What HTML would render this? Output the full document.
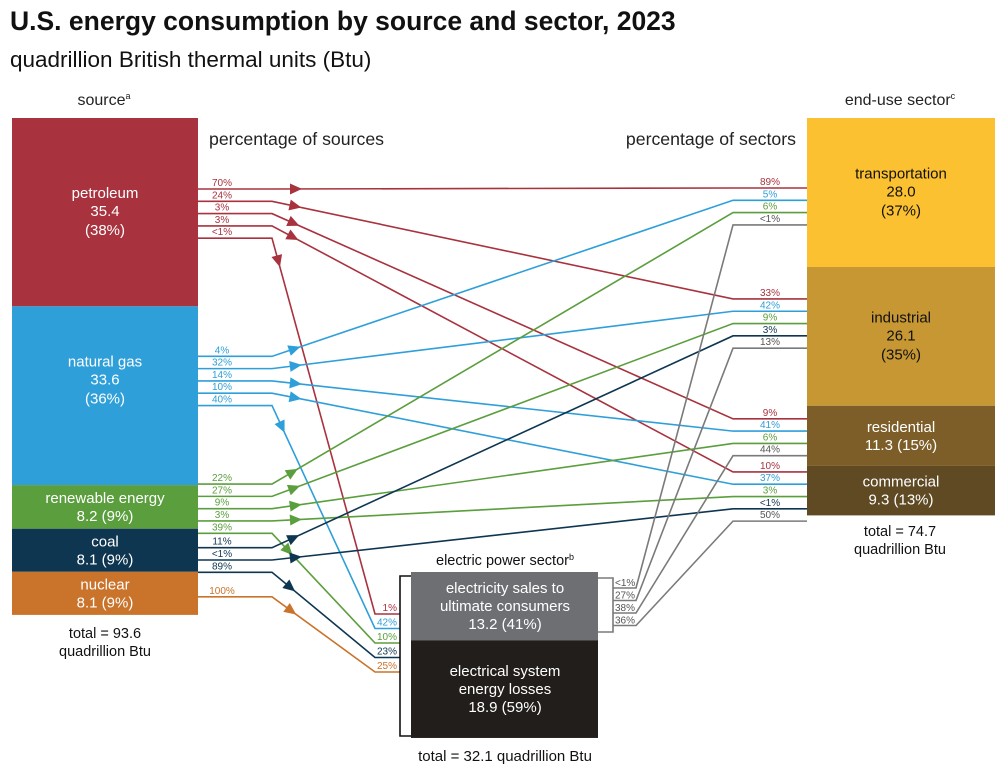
<!DOCTYPE html>
<html><head><meta charset="utf-8"><style>
body{margin:0;background:#fff;font-family:"Liberation Sans",Arial,sans-serif;}
svg text{font-family:"Liberation Sans",Arial,sans-serif;}
</style></head><body>
<svg id="chart" width="1008" height="770" xmlns="http://www.w3.org/2000/svg">
<text x="10" y="30" font-size="26.5" font-weight="bold" fill="#111">U.S. energy consumption by source and sector, 2023</text>
<text x="10" y="67" font-size="22.5" fill="#111">quadrillion British thermal units (Btu)</text>
<text x="104" y="105" font-size="16" text-anchor="middle" fill="#222">source<tspan font-size="9" dy="-6">a</tspan></text>
<text x="900" y="105" font-size="16" text-anchor="middle" fill="#222">end-use sector<tspan font-size="9" dy="-6">c</tspan></text>
<text x="209" y="145" font-size="17.7" fill="#222">percentage of sources</text>
<text x="796" y="145" font-size="17.7" text-anchor="end" fill="#222">percentage of sectors</text>
<g id="lines"></g><g id="arrows"></g><g id="blocks"></g><g id="labels"></g>
<text x="105" y="638" font-size="14.5" text-anchor="middle" fill="#111">total = 93.6</text>
<text x="105" y="656" font-size="14.5" text-anchor="middle" fill="#111">quadrillion Btu</text>
<text x="900" y="536" font-size="14.5" text-anchor="middle" fill="#111">total = 74.7</text>
<text x="900" y="554" font-size="14.5" text-anchor="middle" fill="#111">quadrillion Btu</text>
<text x="505" y="565" font-size="14.5" text-anchor="middle" fill="#111">electric power sector<tspan font-size="9" dy="-5">b</tspan></text>
<text x="505" y="761" font-size="15" text-anchor="middle" fill="#111">total = 32.1 quadrillion Btu</text>
</svg>
<script>
const sources=['petroleum','natural gas','renewable energy','coal','nuclear'];
const sourceValues=[35.4,33.6,8.2,8.1,8.1];
const sourceShares=['38%','36%','9%','9%','9%'];
const sectors=['transportation','industrial','residential','commercial'];
const sectorValues=[28.0,26.1,11.3,9.3];
const sectorShares=['37%','35%','15%','13%'];
const elecParts=['electricity sales to ultimate consumers','electrical system energy losses'];
const elecValues=[13.2,18.9];
const elecShares=['41%','59%'];
// flows: source index -> target (0-3 sectors, 4 electric power)
const flowSource=[0,0,0,0,0, 1,1,1,1,1, 2,2,2,2,2, 3,3,3, 4];
const flowTarget=[0,1,2,3,4, 0,1,2,3,4, 0,1,2,3,4, 1,3,4, 4];
const flowSrcPct=['70%','24%','3%','3%','<1%','4%','32%','14%','10%','40%','22%','27%','9%','3%','39%','11%','<1%','89%','100%'];
const flowTgtPct=['89%','33%','9%','10%','1%','5%','42%','41%','37%','42%','6%','9%','6%','3%','10%','3%','<1%','23%','25%'];
const elecOutPct=['<1%','27%','38%','36%'];
const elecOutTgtPct=['<1%','13%','44%','50%'];

const NS='http://www.w3.org/2000/svg';
const colors=['#a8323e','#2e9fd9','#5b9e3d','#0f3651','#c9732b'];
const sectorColors=['#fbc131','#c69733','#7d5e28','#5f4a23'];
const elecColors=['#6e6f73','#211e1b'];
const GRAY='#7a7a7a';
const scale=5.32, escale=5.17;
const LF=10, BF=15;
function mk(tag,attrs,parent){const e=document.createElementNS(NS,tag);for(const k in attrs)e.setAttribute(k,attrs[k]);document.getElementById(parent).appendChild(e);return e;}
function txt(x,y,s,size,fill,anchor,parent){const t=mk('text',{x:x,y:y,'font-size':size,fill:fill,'text-anchor':anchor||'middle'},parent||'labels');t.textContent=s;return t;}

const srcTop=[];let y=118;
sourceValues.forEach(v=>{srcTop.push(y);y+=v*scale;});
const secTop=[];y=118;
sectorValues.forEach(v=>{secTop.push(y);y+=v*scale;});
const eTop=[];y=572;
elecValues.forEach(v=>{eTop.push(y);y+=v*escale;});

const srcOff=[71,50,-1,19,25], secOff=[70,32,13,6], SP=12.3, TSP=12.3;
const srcCount=[0,0,0,0,0], tgtCount=[0,0,0,0,0];
function arrow(x1,y1,x2,y2,color){
  const dx=x2-x1,dy=y2-y1,L=Math.hypot(dx,dy),ux=dx/L,uy=dy/L;
  const tx=x1+ux*30,ty=y1+uy*30,bx=tx-ux*12,by=ty-uy*12;
  const a=mk('polygon',{points:`${tx},${ty} ${bx-uy*5.5},${by+ux*5.5} ${bx+uy*5.5},${by-ux*5.5}`,fill:color},'arrows');
  
  
}
flowSource.forEach((s,i)=>{
  const t=flowTarget[i];
  const sy=srcTop[s]+srcOff[s]+srcCount[s]*SP; srcCount[s]++;
  const c=colors[s];
  let pts, ty;
  if(t<4){
    ty=secTop[t]+secOff[t]+tgtCount[t]*TSP; tgtCount[t]++;
    pts=[[198,sy],[272,sy],[733,ty],[807,ty]];
    txt(770,ty-3,flowTgtPct[i],LF,c);
  } else {
    ty=614+tgtCount[4]*14.5; tgtCount[4]++;
    pts=[[198,sy],[272,sy],[375,ty],[400,ty]];
    txt(397,ty-3,flowTgtPct[i],LF,c,'end');
  }
  const p=mk('polyline',{points:pts.map(q=>q.join(',')).join(' '),fill:'none',stroke:c,'stroke-width':1.6},'lines');
  
  
  txt(222,sy-3,flowSrcPct[i],LF,c);
  arrow(272,sy,pts[2][0],pts[2][1],c);
});
elecOutPct.forEach((pc,k)=>{
  const oy=588+k*12.5;
  const ty=secTop[k]+secOff[k]+tgtCount[k]*TSP; tgtCount[k]++;
  const p=mk('polyline',{points:`613,${oy} 636,${oy} 733,${ty} 807,${ty}`,fill:'none',stroke:GRAY,'stroke-width':1.6},'lines');
  
  
  txt(615,oy-2,pc,LF,'#555','start');
  txt(770,ty-3,elecOutTgtPct[k],LF,'#555');
});
const lb=mk('path',{d:'M411,576 H400 V736 H411',fill:'#fff',stroke:'#111','stroke-width':1.6},'blocks');


const rb=mk('path',{d:'M598,578 H613 V632 H598',fill:'#fff',stroke:GRAY,'stroke-width':1.6},'blocks');



const srcLabelDy=[0,-15,0,0,0];
sources.forEach((s,i)=>{
  const h=sourceValues[i]*scale;
  const r=mk('rect',{x:12,y:srcTop[i],width:186,height:h,fill:colors[i]},'blocks');
  
  
  const cy=srcTop[i]+h/2+srcLabelDy[i];
  if(h>100){
    txt(105,cy-14,s,BF,'#fff');txt(105,cy+4,sourceValues[i].toFixed(1),BF,'#fff');txt(105,cy+23,'('+sourceShares[i]+')',BF,'#fff');
  } else {
    txt(105,cy-4,s,BF,'#fff');txt(105,cy+14,sourceValues[i].toFixed(1)+' ('+sourceShares[i]+')',BF,'#fff');
  }
});
sectors.forEach((s,i)=>{
  const h=sectorValues[i]*scale;
  const r=mk('rect',{x:807,y:secTop[i],width:188,height:h,fill:sectorColors[i]},'blocks');
  
  
  const cy=secTop[i]+h/2, f=i<2?'#111':'#fff';
  if(h>100){
    txt(901,cy-14,s,BF,f);txt(901,cy+4,sectorValues[i].toFixed(1),BF,f);txt(901,cy+23,'('+sectorShares[i]+')',BF,f);
  } else {
    txt(901,cy-4,s,BF,f);txt(901,cy+14,sectorValues[i].toFixed(1)+' ('+sectorShares[i]+')',BF,f);
  }
});
const elecLines=[['electricity sales to','ultimate consumers'],['electrical system','energy losses']];
elecParts.forEach((s,i)=>{
  const h=elecValues[i]*escale;
  const r=mk('rect',{x:411,y:eTop[i],width:187,height:h,fill:elecColors[i]},'blocks');
  
  
  const cy=eTop[i]+h/2;
  txt(505,cy-13,elecLines[i][0],BF,'#fff');txt(505,cy+5,elecLines[i][1],BF,'#fff');
  txt(505,cy+23,elecValues[i].toFixed(1)+' ('+elecShares[i]+')',BF,'#fff');
});
</script>
</body></html>
